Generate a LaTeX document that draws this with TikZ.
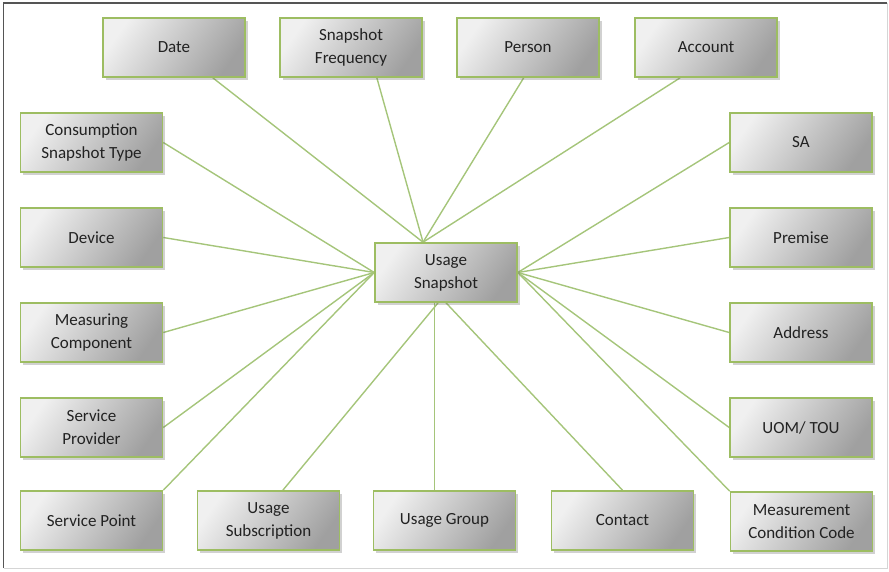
\documentclass[tikz,border=0pt]{standalone}
\usepackage{fontspec}
\setmainfont{Carlito}
\usetikzlibrary{calc,shadows,backgrounds}
\definecolor{boxgreen}{HTML}{9DBD62}
\definecolor{linkgreen}{HTML}{A5C57A}
\definecolor{lightfill}{HTML}{F0F0F0}
\definecolor{darkfill}{HTML}{A0A0A0}
\definecolor{txt}{HTML}{222222}
\definecolor{framedark}{HTML}{555555}
\definecolor{framelight}{HTML}{D5D5D5}
\tikzset{
  entity/.style={draw=boxgreen, line width=1.6pt, minimum width=142pt, minimum height=59pt,
    inner sep=2pt, align=center, text=txt,
    font=\fontsize{17}{23}\selectfont,
    top color=lightfill, bottom color=darkfill, shading angle=55,
    drop shadow={shadow xshift=2.5pt, shadow yshift=-3pt, opacity=0.3, fill=black!60}},
  link/.style={draw=linkgreen, line width=1.4pt}
}
\begin{document}
\begin{tikzpicture}[x=1pt,y=-1pt]
\useasboundingbox (0,0) rectangle (889,571);
\draw[framedark, line width=1.5pt] (3.5,568) -- (3.5,3) -- (887,3);
\draw[framelight, line width=1pt] (887,3) -- (887,568) -- (3.5,568);

\node[entity] (date) at (174,47.5) {Date};
\node[entity] (freq) at (351,47.5) {Snapshot\\Frequency};
\node[entity] (person) at (528,47.5) {Person};
\node[entity] (account) at (706,47.5) {Account};
\node[entity] (cst) at (91.5,142.5) {Consumption\\Snapshot Type};
\node[entity] (device) at (91.5,237.5) {Device};
\node[entity] (meas) at (91.5,332.5) {Measuring\\Component};
\node[entity] (prov) at (91.5,427.5) {Service\\Provider};
\node[entity] (spoint) at (91.5,520.5) {Service Point};
\node[entity] (usub) at (268.5,520.5) {Usage\\Subscription};
\node[entity] (ugroup) at (444.5,520.5) {Usage Group};
\node[entity] (contact) at (622.5,520.5) {Contact};
\node[entity] (mcc) at (801.5,521.5) {Measurement\\Condition Code};
\node[entity] (sa) at (801,142.5) {SA};
\node[entity] (premise) at (801,237.5) {Premise};
\node[entity] (address) at (801,332.5) {Address};
\node[entity] (uom) at (801,427.5) {UOM/ TOU};
\node[entity] (us) at (446,272.5) {Usage\\Snapshot};

\coordinate (top) at ($(us.north west)!0.34!(us.north east)$);
\coordinate (bl) at ($(us.south west)!0.445!(us.south east)$);
\coordinate (br) at ($(us.south west)!0.50!(us.south east)$);
\coordinate (ugtop) at ($(ugroup.north west)!0.43!(ugroup.north east)$);

\begin{scope}[on background layer]
\draw[link] ($(date.south west)!0.77!(date.south east)$) -- (top);
\draw[link] ($(freq.south west)!0.68!(freq.south east)$) -- (top);
\draw[link] ($(person.south west)!0.47!(person.south east)$) -- (top);
\draw[link] ($(account.south west)!0.32!(account.south east)$) -- (top);
\draw[link] (cst.east) -- (us.west);
\draw[link] (device.east) -- (us.west);
\draw[link] (meas.east) -- (us.west);
\draw[link] (prov.east) -- (us.west);
\draw[link] (spoint.north east) -- (us.west);
\draw[link] ($(usub.north west)!0.6!(usub.north east)$) -- (bl);
\draw[link] (ugtop) -- (ugtop |- us.south);
\draw[link] (contact.north) -- (br);
\draw[link] (mcc.north west) -- (us.east);
\draw[link] (uom.west) -- (us.east);
\draw[link] (address.west) -- (us.east);
\draw[link] (premise.west) -- (us.east);
\draw[link] (sa.west) -- (us.east);
\end{scope}
\end{tikzpicture}
\end{document}
